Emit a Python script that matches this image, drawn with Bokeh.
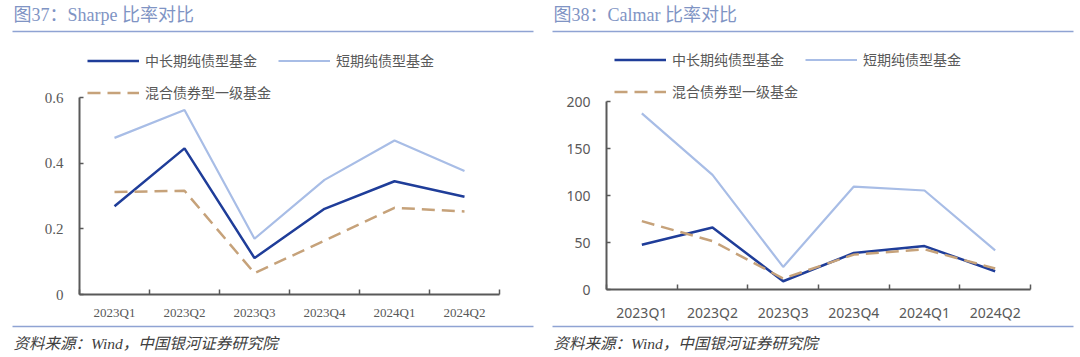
from bokeh.plotting import figure
from bokeh.layouts import row, column
from bokeh.models import Range1d, FixedTicker, Legend, LegendItem
from bokeh.core.properties import value
from bokeh.embed import file_html
from bokeh.resources import INLINE

# ---------------- data ----------------
quarters = ["2023Q1", "2023Q2", "2023Q3", "2023Q4", "2024Q1", "2024Q2"]
series_names = ["中长期纯债型基金", "短期纯债型基金", "混合债券型一级基金"]

sharpe_long = [0.269, 0.445, 0.111, 0.261, 0.345, 0.298]
sharpe_short = [0.477, 0.562, 0.170, 0.349, 0.469, 0.376]
sharpe_mixed = [0.312, 0.316, 0.065, 0.164, 0.264, 0.253]
sharpe_ticks = [0, 0.2, 0.4, 0.6]

calmar_long = [47.7, 66.0, 8.8, 38.8, 46.2, 19.4]
calmar_short = [187.3, 122.0, 24.0, 109.5, 105.3, 41.7]
calmar_mixed = [72.7, 51.5, 11.7, 37.1, 42.7, 22.3]
calmar_ticks = [0, 50, 100, 150, 200]

titles = ["图37：Sharpe 比率对比", "图38：Calmar 比率对比"]
source_text = "资料来源：Wind，中国银河证券研究院"

# ---------------- style ----------------
C_LONG = "#1f3d99"
C_SHORT = "#a8bde6"
C_MIXED = "#c6a27a"
AXIS = "#595959"
RULE = "#8fa3d3"
TITLE_C = "#7f94c4"
SERIF = "'Liberation Serif', 'Noto Sans CJK SC'"
SANS = "'Noto Sans', 'Noto Sans CJK SC'"
CJK = "'Noto Sans CJK SC'"
W = 540


def deco_fig(height):
    f = figure(width=W, height=height, x_range=Range1d(0, W), y_range=Range1d(height, 0),
               output_backend="svg", toolbar_location=None, min_border=0,
               x_axis_location=None, y_axis_location=None, frame_align=False)
    f.grid.visible = False
    f.outline_line_color = None
    return f


def header(title):
    h = deco_fig(40)
    h.text(x=[13], y=[14], text=[title], text_font=value(SERIF), text_font_size="18px",
           text_color=TITLE_C, text_baseline="middle", text_align="left")
    h.line([12, 533], [31, 31], line_color=RULE, line_width=1.5)
    return h


def footer(height, line_y, text_y):
    f = deco_fig(height)
    f.line([12, 533], [line_y, line_y], line_color=RULE, line_width=1.5)
    f.text(x=[13], y=[text_y], text=[source_text], text_font=value(SERIF), text_font_size="15.5px",
           text_font_style="italic", text_color="#404040", text_baseline="middle", text_align="left")
    return f


def main(vals, ticks, zero_px, top_px, fig_h, frame_left, frame_right,
         tick_font, tick_size, ytick_size, x_standoff, legend_vy):
    top_abs = 40
    frame_top = 45
    frame_h = zero_px - frame_top
    y_top = ticks[-1]
    y_end = y_top * frame_h / (zero_px - top_px)
    p = figure(width=W, height=fig_h, x_range=Range1d(0, len(quarters)), y_range=Range1d(0, y_end),
               output_backend="svg", toolbar_location=None, frame_align=False,
               min_border_left=frame_left, min_border_right=W - frame_right,
               min_border_top=frame_top - top_abs, min_border_bottom=top_abs + fig_h - zero_px)
    p.grid.visible = False
    p.outline_line_color = None
    p.background_fill_color = None

    xs = [i + 0.5 for i in range(len(quarters))]
    r1 = p.line(xs, vals[0], line_color=C_LONG, line_width=2.5)
    r2 = p.line(xs, vals[1], line_color=C_SHORT, line_width=2.2)
    r3 = p.line(xs, vals[2], line_color=C_MIXED, line_width=2.5, line_dash="13 7")

    xa = p.xaxis[0]
    xa.ticker = FixedTicker(ticks=xs, minor_ticks=list(range(len(quarters) + 1)))
    xa.major_label_overrides = {x: q for x, q in zip(xs, quarters)}
    xa.major_tick_line_color = None
    xa.major_tick_in = 0
    xa.major_tick_out = 0
    xa.minor_tick_in = 5
    xa.minor_tick_out = 0
    xa.minor_tick_line_color = AXIS
    xa.minor_tick_line_width = 1.5
    xa.axis_line_color = AXIS
    xa.axis_line_width = 2
    xa.major_label_text_font = tick_font
    xa.major_label_text_font_size = tick_size
    xa.major_label_text_color = AXIS
    xa.major_label_standoff = x_standoff

    ya = p.yaxis[0]
    ya.ticker = FixedTicker(ticks=ticks, minor_ticks=[])
    ya.bounds = (0, y_top)
    ya.major_label_overrides = {0: "0"}
    ya.major_tick_in = 4
    ya.major_tick_out = 0
    ya.major_tick_line_color = AXIS
    ya.major_tick_line_width = 1.5
    ya.minor_tick_line_color = None
    ya.axis_line_color = AXIS
    ya.axis_line_width = 2
    ya.major_label_text_font = tick_font
    ya.major_label_text_font_size = ytick_size
    ya.major_label_text_color = AXIS
    ya.major_label_standoff = 16

    legend = Legend(items=[LegendItem(label=series_names[0], renderers=[r1]),
                           LegendItem(label=series_names[1], renderers=[r2]),
                           LegendItem(label=series_names[2], renderers=[r3])],
                    orientation="horizontal", ncols=2, location=(8, legend_vy),
                    glyph_width=52, glyph_height=25, label_height=25, label_standoff=6,
                    spacing=7, padding=0, margin=0, border_line_color=None,
                    background_fill_alpha=0, label_text_font=CJK,
                    label_text_font_size="14px", label_text_color=AXIS)
    p.add_layout(legend)
    return p


left_main = main([sharpe_long, sharpe_short, sharpe_mixed], sharpe_ticks,
                 zero_px=294, top_px=97, fig_h=284, frame_left=79, frame_right=499,
                 tick_font=SERIF, tick_size="13px", ytick_size="15px", x_standoff=10,
                 legend_vy=189.5)
right_main = main([calmar_long, calmar_short, calmar_mixed], calmar_ticks,
                  zero_px=289, top_px=101, fig_h=284, frame_left=66, frame_right=490,
                  tick_font=SANS, tick_size="14px", ytick_size="14px", x_standoff=13,
                  legend_vy=185.5)

left_col = column(header(titles[0]), left_main, footer(33, 2, 19), spacing=0)
right_col = column(header(titles[1]), right_main, footer(33, 2, 19), spacing=0)
layout = row(left_col, right_col, spacing=0)

open("out.html", "w").write(file_html(layout, INLINE))
